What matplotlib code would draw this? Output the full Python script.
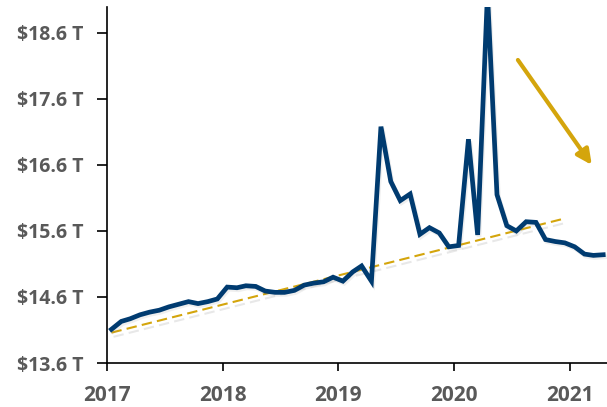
import numpy as np
import pandas as pd
import matplotlib
matplotlib.use('Agg')
import matplotlib.pyplot as plt
import matplotlib.patheffects as pe

# valores mensais (trilhões de dólares), jan/2017 a abr/2021
months = pd.date_range('2017-01-01', '2021-04-01', freq='MS') + pd.Timedelta(days=14)
values = [14.11, 14.23, 14.27, 14.33, 14.37, 14.40, 14.45, 14.49, 14.53, 14.50,
          14.53, 14.57, 14.75, 14.74, 14.77, 14.76, 14.69, 14.67, 14.67, 14.70,
          14.78, 14.81, 14.83, 14.90, 14.84, 14.98, 15.07, 14.84, 17.18, 16.35,
          16.06, 16.16, 15.55, 15.65, 15.57, 15.36, 15.38, 16.99, 15.54, 19.20,
          16.15, 15.68, 15.60, 15.74, 15.73, 15.47, 15.44, 15.42, 15.36, 15.25,
          15.23, 15.24]

# linha de tendência (pontos inicial e final)
trend_x = [months[0], months[47]]
trend_y = [14.06, 15.79]

# seta indicando a queda
arrow_start = (pd.Timestamp('2020-07-20'), 18.19)
arrow_end = (pd.Timestamp('2021-03-10'), 16.60)

y_ticks = [13.6, 14.6, 15.6, 16.6, 17.6, 18.6]
y_labels = ['$13.6 T', '$14.6 T', '$15.6 T', '$16.6 T', '$17.6 T', '$18.6 T']
x_ticks = pd.to_datetime(['2017-01-01', '2018-01-01', '2019-01-01', '2020-01-01', '2021-01-01'])
x_labels = ['2017', '2018', '2019', '2020', '2021']

blue = '#003B70'
gold = '#D4A50C'
gray = '#595959'

plt.rcParams['font.family'] = ['Open Sans', 'DejaVu Sans']

fig = plt.figure(figsize=(6.07, 4.07), dpi=100)
ax = fig.add_axes([0.1763, 0.1081, 0.8237, 0.8759])

# linha de tendência com sombra
ax.plot(trend_x, trend_y, color=gold, lw=1.5, dashes=(5, 2.5), zorder=2,
        path_effects=[pe.SimpleLineShadow(offset=(1.5, -3), shadow_color='gray', alpha=0.18),
                      pe.Normal()])

# série principal
ax.plot(months, values, color=blue, lw=3.4, solid_joinstyle='miter', zorder=3,
        path_effects=[pe.SimpleLineShadow(offset=(1, -1.5), shadow_color='gray', alpha=0.12),
                      pe.Normal()])

ax.annotate('', xy=arrow_end, xytext=arrow_start,
            arrowprops=dict(arrowstyle='-|>,head_length=0.45,head_width=0.22',
                            color=gold, lw=3, mutation_scale=20, shrinkA=0, shrinkB=0))

ax.set_xlim(pd.Timestamp('2017-01-01'), pd.Timestamp('2021-04-27'))
ax.set_ylim(13.6, 19.0)

ax.set_yticks(y_ticks)
ax.set_yticklabels(y_labels)
ax.set_xticks(x_ticks)
ax.set_xticklabels(x_labels)

for s in ['top', 'right']:
    ax.spines[s].set_visible(False)
for s in ['left', 'bottom']:
    ax.spines[s].set_linewidth(1.2)
    ax.spines[s].set_color('black')

ax.tick_params(axis='y', length=7, width=1.2, pad=10, labelsize=14, labelcolor=gray)
ax.tick_params(axis='x', length=6, width=1.2, pad=10, labelsize=15, labelcolor=gray)
for lbl in ax.get_xticklabels() + ax.get_yticklabels():
    lbl.set_fontweight('bold')

fig.savefig('out.png', dpi=100)
